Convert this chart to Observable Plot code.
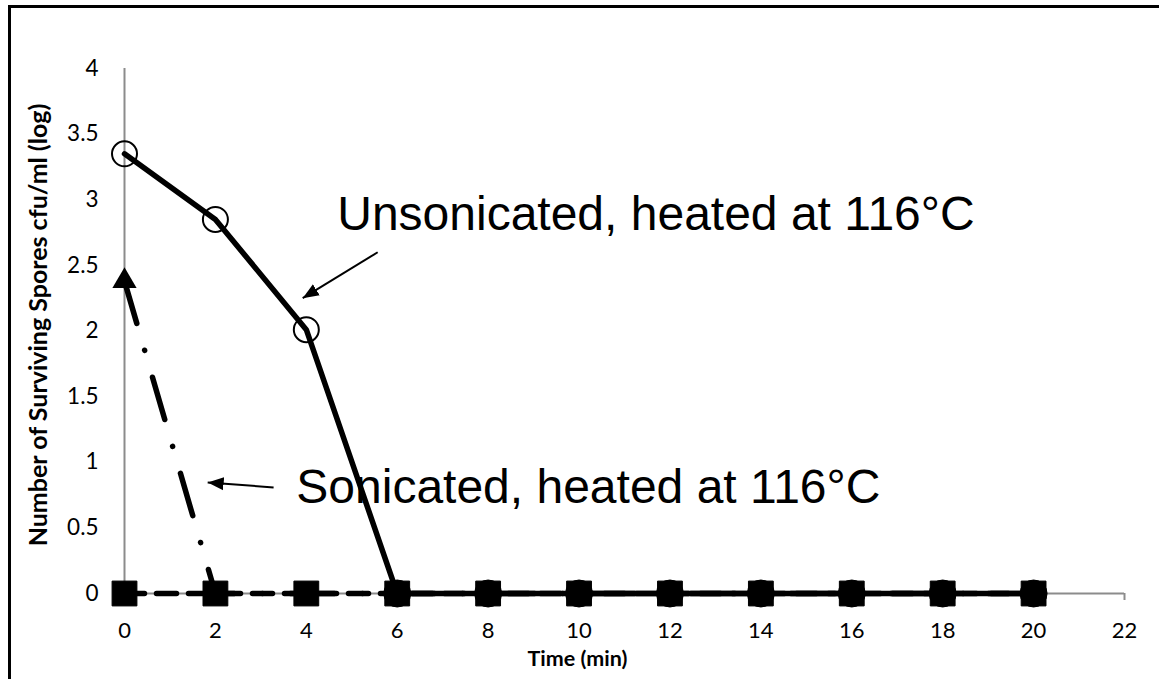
<!DOCTYPE html>
<html><head><meta charset="utf-8">
<script src="https://cdn.jsdelivr.net/npm/d3@7"></script>
<script src="https://cdn.jsdelivr.net/npm/@observablehq/plot@0.6"></script>
<style>
html,body{margin:0;padding:0;background:#fff;overflow:hidden;width:1159px;height:679px}
#chart{position:absolute;left:0;top:0}
#frame{position:absolute;left:8px;top:5px;width:2000px;height:2000px;border:3px solid #000;box-sizing:border-box;pointer-events:none}
</style></head><body>
<div id="chart"></div><div id="frame"></div>
<script>
// ---- data ----
const times = [0, 2, 4, 6, 8, 10, 12, 14, 16, 18, 20];
const unsonicated = [3.35, 2.85, 2.01, 0, 0, 0, 0, 0, 0, 0, 0];
const sonicated = [2.38, 0, 0, 0, 0, 0, 0, 0, 0, 0, 0];
const baseline = [0, 0, 0, 0, 0, 0, 0, 0, 0, 0, 0];
const xTicks = [0, 2, 4, 6, 8, 10, 12, 14, 16, 18, 20, 22];
const yTicks = [0, 0.5, 1, 1.5, 2, 2.5, 3, 3.5, 4];
const xLabel = "Time (min)";
const yLabel = "Number of Surviving Spores cfu/ml (log)";
const annotationLabels = ["Unsonicated, heated at 116°C", "Sonicated, heated at 116°C"];
const annotationX = [4.68, 3.78];
const annotationY = [2.77, 0.686];
const arrowFromX = [5.57, 3.28];
const arrowFromY = [2.60, 0.808];
const arrowToX = [3.92, 1.83];
const arrowToY = [2.25, 0.846];

const uns = times.map((t, i) => ({t, v: unsonicated[i]}));
const son = times.map((t, i) => ({t, v: sonicated[i]}));
const base = times.map((t, i) => ({t, v: baseline[i]}));
const notes = annotationLabels.map((label, i) => ({label, x: annotationX[i], y: annotationY[i]}));
const arrows = arrowFromX.map((x1, i) => ({x1, y1: arrowFromY[i], x2: arrowToX[i], y2: arrowToY[i]}));

const gray = "#8c8c8c";
const plot = Plot.plot({
  width: 1159,
  height: 679,
  marginLeft: 124,
  marginRight: 35,
  marginTop: 68,
  marginBottom: 86,
  style: {fontFamily: "Lato", fontSize: "22px", background: "transparent", overflow: "visible"},
  x: {domain: [0, 22]},
  y: {domain: [0, 4]},
  marks: [
    Plot.ruleY([0], {stroke: gray, strokeWidth: 2}),
    Plot.ruleX([0], {stroke: gray, strokeWidth: 2}),
    Plot.axisX({ticks: xTicks, tickSize: 7, stroke: gray, strokeWidth: 2, tickPadding: 22, fill: "#000", fontSize: 22, label: null, tickFormat: d => String(d)}),
    Plot.axisY({ticks: yTicks, tickSize: 0, tickPadding: 26, fill: "#000", fontSize: 22.5, label: null, tickFormat: d => String(d)}),
    Plot.text([xLabel], {frameAnchor: "bottom", dy: 72, dx: -47, fontWeight: "bold", fontSize: 21.5, fill: "#000"}),
    Plot.text([yLabel], {frameAnchor: "left", textAnchor: "middle", rotate: -90, dx: -86, dy: -6, fontWeight: "bold", fontSize: 25, fill: "#000"}),
    // baseline series (squares, dashed)
    Plot.line(base, {x: "t", y: "v", stroke: "#000", strokeWidth: 5.5, strokeDasharray: "20,12"}),
    Plot.dot(base, {x: "t", y: "v", symbol: "square", r: 14, fill: "#000", stroke: "#000", strokeWidth: 1}),
    // sonicated (triangles, dash-dot)
    Plot.line(son, {x: "t", y: "v", stroke: "#000", strokeWidth: 5.5, strokeLinecap: "round", strokeDasharray: "44,28,0.1,28"}),
    Plot.dot(son.filter(d => d.v > 0), {x: "t", y: "v", symbol: "triangle", r: 9, fill: "#000"}),
    // unsonicated (circles, solid)
    Plot.line(uns, {x: "t", y: "v", stroke: "#000", strokeWidth: 5.5}),
    Plot.dot(uns.filter(d => d.v > 0), {x: "t", y: "v", r: 12.5, fill: "none", stroke: "#000", strokeWidth: 2}),
    Plot.dot(uns.filter(d => d.v === 0 && d.t > 4), {x: "t", y: "v", r: 13.5, fill: "#000", stroke: "#000", strokeWidth: 1}),
    // annotations
    Plot.text(notes, {x: "x", y: "y", text: "label", textAnchor: "start", lineAnchor: "bottom", fontFamily: "Liberation Sans", fontSize: 48, fill: "#000"}),
    Plot.link(arrows, {x1: "x1", y1: "y1", x2: "x2", y2: "y2", stroke: "#000", strokeWidth: 2, markerEnd: "arrow"})
  ]
});
plot.querySelectorAll("marker").forEach(m => {
  m.setAttribute("viewBox", "-16 -7 16 14");
  m.setAttribute("markerWidth", "16");
  m.setAttribute("markerHeight", "14");
  m.setAttribute("markerUnits", "userSpaceOnUse");
  m.setAttribute("refX", "0");
  m.setAttribute("refY", "0");
  m.setAttribute("orient", "auto");
  m.setAttribute("fill", "#000");
  m.setAttribute("stroke", "none");
  while (m.firstChild) m.removeChild(m.firstChild);
  const p = document.createElementNS("http://www.w3.org/2000/svg", "path");
  p.setAttribute("d", "M-16,-6.5L0,0L-16,6.5Z");
  p.setAttribute("fill", "#000");
  p.setAttribute("stroke", "none");
  m.appendChild(p);
});
document.getElementById("chart").appendChild(plot);
</script>
</body></html>
